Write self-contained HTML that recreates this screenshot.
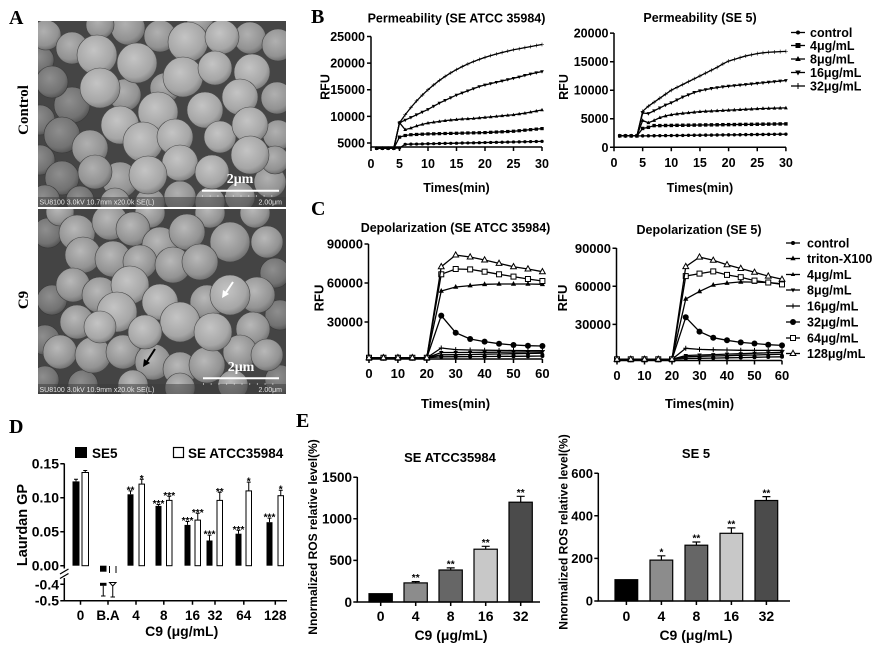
<!DOCTYPE html>
<html><head><meta charset="utf-8"><style>
html,body{margin:0;padding:0;background:#fff;}
svg{display:block;}
text{font-family:"Liberation Sans",Arial,sans-serif;font-weight:bold;fill:#000;}
.serif{font-family:"Liberation Serif","Times New Roman",serif;font-weight:bold;}
.ax{stroke:#000;stroke-width:1.5;fill:none;}
.ln{stroke:#000;stroke-width:1.3;fill:none;}
.bl{stroke:#000;stroke-width:1.3;fill:none;vector-effect:non-scaling-stroke;}
</style></head><body>
<svg width="881" height="654" viewBox="0 0 881 654" xmlns="http://www.w3.org/2000/svg">
<defs>
<radialGradient id="ga" cx="0.42" cy="0.38" r="0.68"><stop offset="0" stop-color="#c4c4c4"/><stop offset="0.7" stop-color="#a6a6a6"/><stop offset="1" stop-color="#747474"/></radialGradient>
<radialGradient id="gb" cx="0.42" cy="0.38" r="0.68"><stop offset="0" stop-color="#b0b0b0"/><stop offset="0.7" stop-color="#929292"/><stop offset="1" stop-color="#626262"/></radialGradient>
<radialGradient id="gc" cx="0.42" cy="0.38" r="0.68"><stop offset="0" stop-color="#8e8e8e"/><stop offset="0.7" stop-color="#727272"/><stop offset="1" stop-color="#4c4c4c"/></radialGradient>
<radialGradient id="gd" cx="0.42" cy="0.38" r="0.68"><stop offset="0" stop-color="#b8b8b8"/><stop offset="0.7" stop-color="#939393"/><stop offset="1" stop-color="#676767"/></radialGradient>
<clipPath id="clT"><rect x="38" y="21" width="248" height="186"/></clipPath>
<clipPath id="clB"><rect x="38" y="209" width="248" height="185"/></clipPath>
<marker id="bc" markerUnits="userSpaceOnUse" markerWidth="1" markerHeight="1" style="overflow:visible"><circle r="0.3" fill="#000"/></marker>
<marker id="bs" markerUnits="userSpaceOnUse" markerWidth="1" markerHeight="1" style="overflow:visible"><rect x="-0.3" y="-0.3" width="0.6" height="0.6" fill="#000"/></marker>
<marker id="bt" markerUnits="userSpaceOnUse" markerWidth="1" markerHeight="1" style="overflow:visible"><path d="M0,0.38 L0.33,-0.25 L-0.33,-0.25Z" fill="#000"/></marker>
<marker id="bv" markerUnits="userSpaceOnUse" markerWidth="1" markerHeight="1" style="overflow:visible"><path d="M0,-0.38 L0.33,0.25 L-0.33,0.25Z" fill="#000"/></marker>
<marker id="bp" markerUnits="userSpaceOnUse" markerWidth="1" markerHeight="1" style="overflow:visible"><path d="M-0.35,-0.05 H0.35 V0.05 H-0.35Z M-0.05,-0.35 H0.05 V0.35 H-0.05Z" fill="#000"/></marker>
<marker id="cc" markerUnits="userSpaceOnUse" markerWidth="1" markerHeight="1" style="overflow:visible"><circle r="2" fill="#000"/></marker>
<marker id="ct" markerUnits="userSpaceOnUse" markerWidth="1" markerHeight="1" style="overflow:visible"><path d="M0,-3 L2.6,1.8 L-2.6,1.8Z" fill="#000"/></marker>
<marker id="c4" markerUnits="userSpaceOnUse" markerWidth="1" markerHeight="1" style="overflow:visible"><path d="M0,-2.5 L2.2,1.5 L-2.2,1.5Z" fill="#000"/></marker>
<marker id="c8" markerUnits="userSpaceOnUse" markerWidth="1" markerHeight="1" style="overflow:visible"><path d="M0,2.5 L2.2,-1.5 L-2.2,-1.5Z" fill="#000"/></marker>
<marker id="c16" markerUnits="userSpaceOnUse" markerWidth="1" markerHeight="1" style="overflow:visible"><path d="M-2.5,-0.5 H2.5 V0.5 H-2.5Z M-0.5,-2.5 H0.5 V2.5 H-0.5Z" fill="#000"/></marker>
<marker id="c32" markerUnits="userSpaceOnUse" markerWidth="1" markerHeight="1" style="overflow:visible"><circle r="3" fill="#000"/></marker>
<marker id="c64" markerUnits="userSpaceOnUse" markerWidth="1" markerHeight="1" style="overflow:visible"><rect x="-2.5" y="-2.5" width="5" height="5" fill="#fff" stroke="#000" stroke-width="1"/></marker>
<marker id="c128" markerUnits="userSpaceOnUse" markerWidth="1" markerHeight="1" style="overflow:visible"><path d="M0,-3.2 L2.9,2 L-2.9,2Z" fill="#fff" stroke="#000" stroke-width="1"/></marker>
</defs>
<rect width="881" height="654" fill="#fff"/>

<!-- ================= PANEL A ================= -->
<text class="serif" x="9" y="24" font-size="20">A</text>
<g clip-path="url(#clT)">
<rect x="38" y="21" width="248" height="186" fill="#454545"/>
<g fill="url(#gc)" stroke="#3a3a3a" stroke-width="0.6">
<circle cx="40" cy="120" r="15"/><circle cx="40" cy="160" r="15"/><circle cx="40" cy="60" r="14"/>
<circle cx="72" cy="105" r="18"/><circle cx="52" cy="82" r="16"/><circle cx="62" cy="135" r="18"/><circle cx="62" cy="178" r="17"/><circle cx="45" cy="200" r="15"/><circle cx="80" cy="200" r="14"/>
</g>
<g fill="url(#gb)" stroke="#444" stroke-width="0.6">
<circle cx="46" cy="35" r="15"/><circle cx="72" cy="48" r="16"/><circle cx="128" cy="28" r="17"/><circle cx="160" cy="36" r="16"/><circle cx="250" cy="38" r="16"/><circle cx="278" cy="45" r="16"/><circle cx="277" cy="98" r="16"/><circle cx="90" cy="148" r="18"/><circle cx="278" cy="135" r="15"/><circle cx="120" cy="180" r="18"/><circle cx="95" cy="172" r="17"/><circle cx="270" cy="182" r="16"/><circle cx="180" cy="197" r="16"/><circle cx="240" cy="197" r="15"/><circle cx="115" cy="203" r="15"/><circle cx="125" cy="95" r="16"/><circle cx="165" cy="88" r="15"/><circle cx="150" cy="203" r="15"/><circle cx="210" cy="202" r="15"/><circle cx="100" cy="25" r="14"/><circle cx="200" cy="22" r="13"/><circle cx="275" cy="160" r="14"/>
</g>
<g fill="url(#ga)" stroke="#4a4a4a" stroke-width="0.6">
<circle cx="97" cy="55" r="20"/><circle cx="100" cy="88" r="20"/><circle cx="137" cy="63" r="20"/><circle cx="188" cy="42" r="20"/><circle cx="222" cy="37" r="17"/><circle cx="183" cy="77" r="20"/><circle cx="215" cy="68" r="17"/><circle cx="252" cy="72" r="18"/><circle cx="240" cy="97" r="18"/><circle cx="205" cy="110" r="18"/><circle cx="158" cy="112" r="20"/><circle cx="120" cy="125" r="19"/><circle cx="143" cy="142" r="20"/><circle cx="175" cy="137" r="18"/><circle cx="220" cy="137" r="16"/><circle cx="250" cy="125" r="18"/><circle cx="250" cy="155" r="19"/><circle cx="180" cy="163" r="18"/><circle cx="148" cy="175" r="19"/><circle cx="212" cy="172" r="17"/>
</g>
<rect x="38" y="197" width="248" height="10" fill="#3a3a3a" opacity="0.5"/>
<line x1="202" y1="190.7" x2="279" y2="190.7" stroke="#fff" stroke-width="2"/>
<line x1="202" y1="196" x2="279" y2="196" stroke="#ddd" stroke-width="1.2" stroke-dasharray="1 6.7"/>
<text class="serif" x="240" y="183" font-size="14" text-anchor="middle" style="fill:#fff">2μm</text>
<text x="39.5" y="204.5" font-size="7" style="fill:#e6e6e6;font-weight:normal">SU8100 3.0kV 10.7mm x20.0k SE(L)</text>
<text x="282" y="204.5" font-size="7" text-anchor="end" style="fill:#e6e6e6;font-weight:normal">2.00μm</text>
</g>
<g clip-path="url(#clB)">
<rect x="38" y="209" width="248" height="185" fill="#444"/>
<g fill="url(#gc)" stroke="#3a3a3a" stroke-width="0.6">
<circle cx="48" cy="233" r="15"/><circle cx="52" cy="300" r="15"/><circle cx="45" cy="340" r="15"/><circle cx="83" cy="385" r="15"/><circle cx="275" cy="273" r="15"/><circle cx="280" cy="380" r="15"/><circle cx="280" cy="315" r="15"/><circle cx="45" cy="380" r="14"/>
</g>
<g fill="url(#gd)" stroke="#444" stroke-width="0.6">
<circle cx="150" cy="213" r="15"/><circle cx="210" cy="213" r="15"/><circle cx="255" cy="213" r="15"/><circle cx="60" cy="212" r="14"/>
<circle cx="77" cy="233" r="18"/><circle cx="110" cy="222" r="18"/><circle cx="133" cy="229" r="17"/><circle cx="160" cy="245" r="18"/><circle cx="187" cy="232" r="18"/><circle cx="230" cy="242" r="20"/><circle cx="267" cy="242" r="16"/><circle cx="83" cy="255" r="18"/><circle cx="113" cy="259" r="18"/><circle cx="140" cy="262" r="17"/><circle cx="173" cy="265" r="18"/><circle cx="200" cy="262" r="18"/><circle cx="73" cy="285" r="17"/><circle cx="100" cy="295" r="18"/><circle cx="257" cy="295" r="18"/><circle cx="207" cy="302" r="17"/><circle cx="253" cy="329" r="17"/><circle cx="77" cy="322" r="17"/><circle cx="60" cy="352" r="17"/><circle cx="93" cy="355" r="18"/><circle cx="123" cy="352" r="17"/><circle cx="153" cy="362" r="18"/><circle cx="180" cy="369" r="17"/><circle cx="207" cy="365" r="18"/><circle cx="240" cy="352" r="17"/><circle cx="267" cy="355" r="16"/><circle cx="133" cy="385" r="15"/><circle cx="233" cy="385" r="15"/><circle cx="180" cy="388" r="15"/>
</g>
<g fill="url(#ga)" stroke="#4a4a4a" stroke-width="0.6">
<circle cx="230" cy="295" r="20"/><circle cx="130" cy="285" r="19"/><circle cx="117" cy="312" r="20"/><circle cx="160" cy="302" r="18"/><circle cx="180" cy="322" r="20"/><circle cx="213" cy="332" r="19"/><circle cx="145" cy="332" r="17"/><circle cx="100" cy="327" r="16"/>
</g>
<rect x="38" y="384" width="248" height="10" fill="#3a3a3a" opacity="0.5"/>
<line x1="203" y1="378.3" x2="279" y2="378.3" stroke="#fff" stroke-width="2"/>
<line x1="203" y1="384" x2="279" y2="384" stroke="#ddd" stroke-width="1.2" stroke-dasharray="1 6.7"/>
<text class="serif" x="241" y="371" font-size="14" text-anchor="middle" style="fill:#fff">2μm</text>
<text x="39.5" y="392" font-size="7" style="fill:#e6e6e6;font-weight:normal">SU8100 3.0kV 10.9mm x20.0k SE(L)</text>
<text x="282" y="392" font-size="7" text-anchor="end" style="fill:#e6e6e6;font-weight:normal">2.00μm</text>
<line x1="233" y1="282" x2="225" y2="294" stroke="#fff" stroke-width="2"/>
<path d="M222,298 L223,290 L229,294Z" fill="#fff"/>
<line x1="155" y1="349" x2="146" y2="363" stroke="#000" stroke-width="2"/>
<path d="M143,367 L144,359 L150,363Z" fill="#000"/>
</g>
<text class="serif" transform="translate(28,110) rotate(-90)" font-size="15" text-anchor="middle">Control</text>
<text class="serif" transform="translate(28,300) rotate(-90)" font-size="15" text-anchor="middle">C9</text>

<!-- ================= PANEL B ================= -->
<text class="serif" x="311" y="23" font-size="20">B</text>
<text x="456.5" y="22.5" font-size="12.5" text-anchor="middle">Permeability (SE ATCC 35984)</text>
<path class="ax" d="M371,36.5 V147 H542"/>
<path class="ax" d="M367,36.5 H371 M367,63.1 H371 M367,89.75 H371 M367,116.4 H371 M367,143 H371 M371,147 V151 M399.5,147 V151 M428,147 V151 M456.5,147 V151 M485,147 V151 M513.5,147 V151 M542,147 V151"/>
<g font-size="12.5" text-anchor="end">
<text x="365" y="41">25000</text><text x="365" y="67.6">20000</text><text x="365" y="94.2">15000</text><text x="365" y="120.9">10000</text><text x="365" y="147.5">5000</text>
</g>
<g font-size="12.5" text-anchor="middle">
<text x="371" y="168">0</text><text x="399.5" y="168">5</text><text x="428" y="168">10</text><text x="456.5" y="168">15</text><text x="485" y="168">20</text><text x="513.5" y="168">25</text><text x="542" y="168">30</text>
</g>
<text transform="translate(329.5,87) rotate(-90)" font-size="12.5" text-anchor="middle">RFU</text>
<text x="456.5" y="192" font-size="12.5" text-anchor="middle">Times(min)</text>
<g transform="translate(371,169.6) scale(5.7,-5.325)">
<polyline class="bl" marker-start="url(#bp)" marker-mid="url(#bp)" marker-end="url(#bp)" points="1,4 2,4 3,4 4,4 5,8.8 6,10.3 7,11.66 8,12.9 9,14 10,15 11,15.9 12,16.75 13,17.5 14,18.17 15,18.78 16,19.34 17,19.84 18,20.29 19,20.7 20,21.07 21,21.4 22,21.7 23,22 24,22.25 25,22.5 26,22.7 27,22.9 28,23.1 29,23.3 30,23.5"/>
<polyline class="bl" marker-start="url(#bv)" marker-mid="url(#bv)" marker-end="url(#bv)" points="1,4 2,4 3,4 4,4 5,8.8 6,9.3 7,9.8 8,10.3 9,10.8 10,11.3 11,11.9 12,12.5 13,13 14,13.5 15,14 16,14.4 17,14.8 18,15.2 19,15.6 20,15.9 21,16.15 22,16.4 23,16.65 24,16.9 25,17.15 26,17.4 27,17.7 28,17.95 29,18.2 30,18.4"/>
<polyline class="bl" marker-start="url(#bt)" marker-mid="url(#bt)" marker-end="url(#bt)" points="1,4 2,4 3,4 4,4 5,8.8 6,7.5 7,7.8 8,8.2 9,8.5 10,8.75 11,8.9 12,9.05 13,9.2 14,9.3 15,9.4 16,9.5 17,9.55 18,9.6 19,9.7 20,9.8 21,9.9 22,10 23,10.1 24,10.2 25,10.3 26,10.45 27,10.6 28,10.8 29,11 30,11.2"/>
<polyline class="bl" marker-start="url(#bs)" marker-mid="url(#bs)" marker-end="url(#bs)" points="1,4 2,4 3,4 4,4 5,6.1 6,6.4 7,6.55 8,6.6 9,6.65 10,6.7 11,6.72 12,6.75 13,6.78 14,6.8 15,6.82 16,6.85 17,6.88 18,6.9 19,6.92 20,6.95 21,7 22,7.05 23,7.1 24,7.15 25,7.2 26,7.3 27,7.4 28,7.5 29,7.6 30,7.7"/>
<polyline class="bl" marker-start="url(#bc)" marker-mid="url(#bc)" marker-end="url(#bc)" points="1,4 2,4 3,4 4,4 5,4.05 6,4.75 7,4.78 8,4.8 9,4.82 10,4.85 11,4.87 12,4.9 13,4.92 14,4.94 15,4.96 16,4.99 17,5.01 18,5.03 19,5.05 20,5.08 21,5.1 22,5.12 23,5.14 24,5.17 25,5.19 26,5.21 27,5.23 28,5.26 29,5.28 30,5.3"/>
</g>

<text x="700" y="22" font-size="12.5" text-anchor="middle">Permeability (SE 5)</text>
<path class="ax" d="M614,33 V147.3 H786"/>
<path class="ax" d="M610,33.1 H614 M610,61.7 H614 M610,90.2 H614 M610,118.75 H614 M610,147.3 H614 M614,147.3 V151.3 M642.65,147.3 V151.3 M671.3,147.3 V151.3 M699.95,147.3 V151.3 M728.6,147.3 V151.3 M757.25,147.3 V151.3 M785.9,147.3 V151.3"/>
<g font-size="12.5" text-anchor="end">
<text x="608.5" y="37.6">20000</text><text x="608.5" y="66.2">15000</text><text x="608.5" y="94.7">10000</text><text x="608.5" y="123.2">5000</text><text x="608.5" y="151.8">0</text>
</g>
<g font-size="12.5" text-anchor="middle">
<text x="614" y="167">0</text><text x="642.65" y="167">5</text><text x="671.3" y="167">10</text><text x="699.95" y="167">15</text><text x="728.6" y="167">20</text><text x="757.25" y="167">25</text><text x="785.9" y="167">30</text>
</g>
<text transform="translate(568,87) rotate(-90)" font-size="12.5" text-anchor="middle">RFU</text>
<text x="700" y="192" font-size="12.5" text-anchor="middle">Times(min)</text>
<g transform="translate(614,147.3) scale(5.73,-5.71)">
<polyline class="bl" marker-start="url(#bp)" marker-mid="url(#bp)" marker-end="url(#bp)" points="1,2 2,2 3,2 4,2 5,6.3 6,7.2 7,7.9 8,8.6 9,9.3 10,10 11,10.5 12,11 13,11.5 14,12 15,12.5 16,13 17,13.5 18,14 19,14.6 20,15.1 21,15.4 22,15.7 23,16 24,16.2 25,16.4 26,16.55 27,16.65 28,16.7 29,16.75 30,16.8"/>
<polyline class="bl" marker-start="url(#bv)" marker-mid="url(#bv)" marker-end="url(#bv)" points="1,2 2,2 3,2 4,2 5,6 6,5.9 7,6.4 8,6.9 9,7.4 10,7.8 11,8.3 12,8.8 13,9.2 14,9.6 15,9.9 16,10.1 17,10.3 18,10.45 19,10.6 20,10.7 21,10.8 22,10.9 23,11 24,11.1 25,11.2 26,11.3 27,11.4 28,11.5 29,11.6 30,11.7"/>
<polyline class="bl" marker-start="url(#bt)" marker-mid="url(#bt)" marker-end="url(#bt)" points="1,2 2,2 3,2 4,2 5,4.7 6,4.3 7,4.7 8,5.2 9,5.5 10,5.7 11,5.85 12,5.95 13,6.05 14,6.15 15,6.25 16,6.3 17,6.35 18,6.4 19,6.45 20,6.5 21,6.55 22,6.6 23,6.65 24,6.7 25,6.75 26,6.8 27,6.82 28,6.85 29,6.88 30,6.9"/>
<polyline class="bl" marker-start="url(#bs)" marker-mid="url(#bs)" marker-end="url(#bs)" points="1,2 2,2 3,2 4,2 5,3.3 6,3.5 7,3.8 8,3.8 9,3.82 10,3.83 11,3.85 12,3.86 13,3.87 14,3.89 15,3.9 16,3.92 17,3.93 18,3.94 19,3.96 20,3.97 21,3.98 22,4 23,4.01 24,4.02 25,4.04 26,4.05 27,4.06 28,4.08 29,4.09 30,4.1"/>
<polyline class="bl" marker-start="url(#bc)" marker-mid="url(#bc)" marker-end="url(#bc)" points="1,2 2,2 3,2 4,2 5,2 6,2.01 7,2.02 8,2.04 9,2.05 10,2.06 11,2.07 12,2.08 13,2.1 14,2.11 15,2.12 16,2.13 17,2.14 18,2.16 19,2.17 20,2.18 21,2.19 22,2.2 23,2.22 24,2.23 25,2.24 26,2.25 27,2.26 28,2.28 29,2.29 30,2.3"/>
</g>
<g class="ln">
<line x1="791" y1="32.5" x2="805" y2="32.5"/><line x1="791" y1="45.5" x2="805" y2="45.5"/><line x1="791" y1="59" x2="805" y2="59"/><line x1="791" y1="72.5" x2="805" y2="72.5"/><line x1="791" y1="86" x2="805" y2="86"/>
</g>
<circle cx="798" cy="32.5" r="2" fill="#000"/>
<rect x="795.5" y="43" width="5" height="5" fill="#000"/>
<path d="M798,56 L800.8,61 L795.2,61Z" fill="#000"/>
<path d="M798,75.5 L800.8,70.5 L795.2,70.5Z" fill="#000"/>
<path d="M795,85.5 H801 V86.5 H795Z M797.5,83 H798.5 V89 H797.5Z" fill="#000"/>
<g font-size="12.5">
<text x="810" y="37">control</text><text x="810" y="50">4μg/mL</text><text x="810" y="63.5">8μg/mL</text><text x="810" y="77">16μg/mL</text><text x="810" y="90.5">32μg/mL</text>
</g>

<!-- ================= PANEL C ================= -->
<text class="serif" x="311" y="215" font-size="20">C</text>
<text x="455.5" y="232" font-size="12.5" text-anchor="middle">Depolarization (SE ATCC 35984)</text>
<path class="ax" d="M368.5,244 V359 H542.5"/>
<path class="ax" d="M364.5,244 H368.5 M364.5,283 H368.5 M364.5,322 H368.5 M369,359 V363 M397.9,359 V363 M426.8,359 V363 M455.7,359 V363 M484.6,359 V363 M513.5,359 V363 M542.4,359 V363"/>
<g font-size="13" text-anchor="end">
<text x="363" y="248.7">90000</text><text x="363" y="287.7">60000</text><text x="363" y="326.7">30000</text>
</g>
<g font-size="13" text-anchor="middle">
<text x="369" y="378">0</text><text x="397.9" y="378">10</text><text x="426.8" y="378">20</text><text x="455.7" y="378">30</text><text x="484.6" y="378">40</text><text x="513.5" y="378">50</text><text x="542.4" y="378">60</text>
</g>
<text transform="translate(323.5,298) rotate(-90)" font-size="13" text-anchor="middle">RFU</text>
<text x="455.5" y="408" font-size="13" text-anchor="middle">Times(min)</text>
<g class="ln">
<polyline marker-start="url(#cc)" marker-mid="url(#cc)" marker-end="url(#cc)" points="369,357.75 383.45,357.75 397.9,357.75 412.35,357.75 426.8,357.75 441.25,356.8 455.7,356.7 470.15,356.6 484.6,356.5 499.05,356.4 513.5,356.3 527.95,356.2 542.4,356"/>
<polyline marker-start="url(#c4)" marker-mid="url(#c4)" marker-end="url(#c4)" points="369,357.75 383.45,357.75 397.9,357.75 412.35,357.75 426.8,357.75 441.25,354.8 455.7,354.7 470.15,354.5 484.6,354.2 499.05,354 513.5,353.7 527.95,353.5 542.4,353.2"/>
<polyline marker-start="url(#c8)" marker-mid="url(#c8)" marker-end="url(#c8)" points="369,357.75 383.45,357.75 397.9,357.75 412.35,357.75 426.8,357.75 441.25,352.5 455.7,352.5 470.15,352.4 484.6,352.3 499.05,352.2 513.5,352.1 527.95,352 542.4,351.9"/>
<polyline marker-start="url(#c16)" marker-mid="url(#c16)" marker-end="url(#c16)" points="369,357.75 383.45,357.75 397.9,357.75 412.35,357.75 426.8,357.75 441.25,348 455.7,349.6 470.15,350 484.6,350.2 499.05,350.4 513.5,350.5 527.95,350.6 542.4,350.6"/>
<polyline marker-start="url(#c32)" marker-mid="url(#c32)" marker-end="url(#c32)" points="369,357.75 383.45,357.75 397.9,357.75 412.35,357.75 426.8,357.75 441.25,315.6 455.7,332.7 470.15,339 484.6,341.6 499.05,343.7 513.5,345 527.95,345.7 542.4,346"/>
<polyline marker-start="url(#ct)" marker-mid="url(#ct)" marker-end="url(#ct)" points="369,357.75 383.45,357.75 397.9,357.75 412.35,357.75 426.8,357.75 441.25,291 455.7,287 470.15,285.6 484.6,284.3 499.05,284 513.5,284 527.95,284 542.4,284.3"/>
<polyline marker-start="url(#c64)" marker-mid="url(#c64)" marker-end="url(#c64)" points="369,357.75 383.45,357.75 397.9,357.75 412.35,357.75 426.8,357.75 441.25,274.3 455.7,269 470.15,269.4 484.6,271.7 499.05,274.3 513.5,276.6 527.95,279 542.4,281"/>
<polyline marker-start="url(#c128)" marker-mid="url(#c128)" marker-end="url(#c128)" points="369,357.75 383.45,357.75 397.9,357.75 412.35,357.75 426.8,357.75 441.25,266.75 455.7,255.05 470.15,257 484.6,260 499.05,263.4 513.5,266.75 527.95,269 542.4,271.7"/>
</g>

<text x="699" y="234" font-size="12.5" text-anchor="middle">Depolarization (SE 5)</text>
<path class="ax" d="M616.5,248 V360.5 H782"/>
<path class="ax" d="M612.5,248.2 H616.5 M612.5,286.3 H616.5 M612.5,324.4 H616.5 M617,360.5 V364.5 M644.5,360.5 V364.5 M672,360.5 V364.5 M699.5,360.5 V364.5 M727,360.5 V364.5 M754.5,360.5 V364.5 M782,360.5 V364.5"/>
<g font-size="13" text-anchor="end">
<text x="611" y="252.9">90000</text><text x="611" y="291">60000</text><text x="611" y="329.1">30000</text>
</g>
<g font-size="13" text-anchor="middle">
<text x="617" y="380">0</text><text x="644.5" y="380">10</text><text x="672" y="380">20</text><text x="699.5" y="380">30</text><text x="727" y="380">40</text><text x="754.5" y="380">50</text><text x="782" y="380">60</text>
</g>
<text transform="translate(567,298) rotate(-90)" font-size="13" text-anchor="middle">RFU</text>
<text x="699.5" y="408" font-size="13" text-anchor="middle">Times(min)</text>
<g class="ln">
<polyline marker-start="url(#cc)" marker-mid="url(#cc)" marker-end="url(#cc)" points="617,359.3 630.75,359.3 644.5,359.3 658.25,359.3 672,359.3 685.75,358.5 699.5,358.3 713.25,358.1 727,357.8 740.75,357.6 754.5,357.3 768.25,357 782,356.8"/>
<polyline marker-start="url(#c4)" marker-mid="url(#c4)" marker-end="url(#c4)" points="617,359.3 630.75,359.3 644.5,359.3 658.25,359.3 672,359.3 685.75,356.8 699.5,356.4 713.25,356 727,355.7 740.75,355.3 754.5,355 768.25,354.6 782,354.2"/>
<polyline marker-start="url(#c8)" marker-mid="url(#c8)" marker-end="url(#c8)" points="617,359.3 630.75,359.3 644.5,359.3 658.25,359.3 672,359.3 685.75,355.5 699.5,355 713.25,354.6 727,354.1 740.75,353.7 754.5,353.2 768.25,352.8 782,352.3"/>
<polyline marker-start="url(#c16)" marker-mid="url(#c16)" marker-end="url(#c16)" points="617,359.3 630.75,359.3 644.5,359.3 658.25,359.3 672,359.3 685.75,348.3 699.5,349.4 713.25,349.8 727,350 740.75,350.3 754.5,350.4 768.25,350.4 782,350.4"/>
<polyline marker-start="url(#c32)" marker-mid="url(#c32)" marker-end="url(#c32)" points="617,359.3 630.75,359.3 644.5,359.3 658.25,359.3 672,359.3 685.75,317.3 699.5,331.6 713.25,337.7 727,340.3 740.75,342.4 754.5,343.5 768.25,344.7 782,345.4"/>
<polyline marker-start="url(#ct)" marker-mid="url(#ct)" marker-end="url(#ct)" points="617,359.3 630.75,359.3 644.5,359.3 658.25,359.3 672,359.3 685.75,299 699.5,291.4 713.25,285 727,283.1 740.75,281.9 754.5,282.1 768.25,282.5 782,283.8"/>
<polyline marker-start="url(#c64)" marker-mid="url(#c64)" marker-end="url(#c64)" points="617,359.3 630.75,359.3 644.5,359.3 658.25,359.3 672,359.3 685.75,276.1 699.5,273.6 713.25,271.4 727,274.9 740.75,277.2 754.5,280.6 768.25,282.5 782,284.4"/>
<polyline marker-start="url(#c128)" marker-mid="url(#c128)" marker-end="url(#c128)" points="617,359.3 630.75,359.3 644.5,359.3 658.25,359.3 672,359.3 685.75,266.6 699.5,257.1 713.25,260.3 727,264.7 740.75,268.5 754.5,272.3 768.25,276.1 782,279.3"/>
</g>
<g class="ln">
<line x1="786" y1="243" x2="800" y2="243"/><line x1="786" y1="258.5" x2="800" y2="258.5"/><line x1="786" y1="274.5" x2="800" y2="274.5"/><line x1="786" y1="290" x2="800" y2="290"/><line x1="786" y1="306" x2="800" y2="306"/><line x1="786" y1="322" x2="800" y2="322"/><line x1="786" y1="338" x2="800" y2="338"/><line x1="786" y1="353.5" x2="800" y2="353.5"/>
</g>
<circle cx="793" cy="243" r="2" fill="#000"/>
<path d="M793,255.5 L795.6,260.3 L790.4,260.3Z" fill="#000"/>
<path d="M793,272 L795.2,276 L790.8,276Z" fill="#000"/>
<path d="M793,292.5 L795.2,288.5 L790.8,288.5Z" fill="#000"/>
<path d="M790.5,305.5 H795.5 V306.5 H790.5Z M792.5,303.5 H793.5 V308.5 H792.5Z" fill="#000"/>
<circle cx="793" cy="322" r="3" fill="#000"/>
<rect x="790.5" y="335.5" width="5" height="5" fill="#fff" stroke="#000" stroke-width="1"/>
<path d="M793,350.3 L795.9,355.5 L790.1,355.5Z" fill="#fff" stroke="#000" stroke-width="1"/>
<g font-size="12.5">
<text x="807" y="247.5">control</text><text x="807" y="263">triton-X100</text><text x="807" y="279">4μg/mL</text><text x="807" y="294.5">8μg/mL</text><text x="807" y="310.5">16μg/mL</text><text x="807" y="326.5">32μg/mL</text><text x="807" y="342.5">64μg/mL</text><text x="807" y="358">128μg/mL</text>
</g>

<!-- ================= PANEL D ================= -->
<text class="serif" x="9" y="433" font-size="20">D</text>
<rect x="75" y="447" width="12" height="11" fill="#000"/>
<text x="92" y="458" font-size="13.5">SE5</text>
<rect x="173.5" y="447.5" width="10" height="10" fill="#fff" stroke="#000" stroke-width="1.2"/>
<text x="188" y="458" font-size="13.5">SE ATCC35984</text>
<path class="ax" d="M64.3,463.5 V568.5 M64.3,578 V600.7 H287"/>
<path d="M60,574 L68.5,569 M60,578.5 L68.5,573.5" stroke="#000" stroke-width="1.3" fill="none"/>
<path class="ax" d="M60.3,463.7 H64.3 M60.3,497.7 H64.3 M60.3,531.7 H64.3 M60.3,565.7 H64.3 M60.3,584.3 H64.3 M60.3,600.7 H64.3 M80.5,600.7 V604.7 M108,600.7 V604.7 M136,600.7 V604.7 M163.8,600.7 V604.7 M192.5,600.7 V604.7 M215,600.7 V604.7 M243.8,600.7 V604.7 M275.3,600.7 V604.7"/>
<g font-size="14" text-anchor="end">
<text x="59" y="468.7">0.15</text><text x="59" y="502.7">0.10</text><text x="59" y="536.7">0.05</text><text x="59" y="570.7">0.00</text><text x="59" y="589.3">-0.4</text><text x="59" y="605.7">-0.5</text>
</g>
<g font-size="13.5" text-anchor="middle">
<text x="80.5" y="620">0</text><text x="108" y="620">B.A</text><text x="136" y="620">4</text><text x="163.8" y="620">8</text><text x="192.5" y="620">16</text><text x="215" y="620">32</text><text x="243.8" y="620">64</text><text x="275.3" y="620">128</text>
</g>
<text transform="translate(27,525) rotate(-90)" font-size="14.5" text-anchor="middle">Laurdan GP</text>
<text x="181.7" y="636" font-size="14" text-anchor="middle">C9 (μg/mL)</text>
<g fill="#000">
<rect x="72.5" y="481.4" width="7" height="84.3"/>
<rect x="100" y="565.7" width="6.5" height="6"/>
<rect x="127.5" y="494.3" width="6" height="71.4"/>
<rect x="155.5" y="505.9" width="6" height="59.8"/>
<rect x="184.5" y="524.9" width="6" height="40.8"/>
<rect x="206.5" y="540.5" width="6" height="25.2"/>
<rect x="235.5" y="533.7" width="6" height="32"/>
<rect x="266.5" y="522.2" width="6" height="43.5"/>
<rect x="100" y="582.8" width="6.5" height="3"/>
</g>
<g fill="#fff" stroke="#000" stroke-width="1">
<rect x="82" y="472.5" width="6.5" height="93.2"/>
<rect x="139" y="484.1" width="5.5" height="81.6"/>
<rect x="166.5" y="500.4" width="5.5" height="65.3"/>
<rect x="195" y="520.1" width="5.5" height="45.6"/>
<rect x="217" y="500.4" width="5.5" height="65.3"/>
<rect x="246" y="490.9" width="5.5" height="74.8"/>
<rect x="278" y="495.7" width="5.5" height="70"/>
</g>
<path d="M76,481.4 V479.3 M74,479.3 H78 M85.25,472.5 V470.5 M83.25,470.5 H87.25 M130.5,494.3 V490.9 M128.5,490.9 H132.5 M141.75,484.1 V479.3 M139.75,479.3 H143.75 M158.5,505.9 V504.5 M156.5,504.5 H160.5 M169.25,500.4 V496.3 M167.25,496.3 H171.25 M187.5,524.9 V521.5 M185.5,521.5 H189.5 M197.75,520.1 V513.3 M195.75,513.3 H199.75 M209.5,540.5 V535.1 M207.5,535.1 H211.5 M219.75,500.4 V492.3 M217.75,492.3 H221.75 M238.5,533.7 V530.3 M236.5,530.3 H240.5 M248.75,490.9 V482.1 M246.75,482.1 H250.75 M269.5,522.2 V518.1 M267.5,518.1 H271.5 M280.75,495.7 V490.2 M278.75,490.2 H282.75" stroke="#000" stroke-width="1" fill="none"/>
<path d="M109.5,566 V573 M116,566 V573 M103.25,585.8 V596 M101,596 H105.5 M109.5,582.5 H116 L112.75,586 Z M112.75,586 V597 M110.5,597 H115" stroke="#000" stroke-width="1" fill="none"/>
<g font-size="10" text-anchor="middle">
<text x="130.5" y="493.4">**</text><text x="141.75" y="481.8">*</text>
<text x="158.5" y="507">***</text><text x="169.25" y="498.8">***</text>
<text x="187.5" y="524">***</text><text x="197.75" y="515.8">***</text>
<text x="209.5" y="537.6">***</text><text x="219.75" y="494.8">**</text>
<text x="238.5" y="532.8">***</text><text x="248.75" y="484.6">*</text>
<text x="269.5" y="520.6">***</text><text x="280.75" y="492.7">*</text>
</g>

<!-- ================= PANEL E ================= -->
<text class="serif" x="296" y="427" font-size="20">E</text>
<text x="450" y="462" font-size="13" text-anchor="middle">SE ATCC35984</text>
<g stroke="#000" stroke-width="1.2">
<rect x="369" y="593.7" width="23.3" height="8.3" fill="#000"/>
<rect x="404" y="582.9" width="23.3" height="19.1" fill="#8c8c8c"/>
<rect x="439" y="570" width="23.3" height="32" fill="#666"/>
<rect x="474" y="549.2" width="23.3" height="52.8" fill="#c8c8c8"/>
<rect x="509" y="502.2" width="23.3" height="99.8" fill="#4b4b4b"/>
</g>
<path d="M415.7,582.9 V581.6 M411.7,581.6 H419.7 M450.7,570 V567.9 M446.7,567.9 H454.7 M485.7,549.2 V546.3 M481.7,546.3 H489.7 M520.7,502.2 V496.3 M516.7,496.3 H524.7" stroke="#000" stroke-width="1.2" fill="none"/>
<path class="ax" d="M357.3,477 V602 H540"/>
<path class="ax" d="M353.3,477.2 H357.3 M353.3,518.8 H357.3 M353.3,560.4 H357.3 M353.3,602 H357.3 M380.7,602 V606 M415.7,602 V606 M450.7,602 V606 M485.7,602 V606 M520.7,602 V606"/>
<g font-size="13.5" text-anchor="end">
<text x="352" y="482">1500</text><text x="352" y="523.6">1000</text><text x="352" y="565.2">500</text><text x="352" y="606.8">0</text>
</g>
<g font-size="14" text-anchor="middle">
<text x="380.7" y="621">0</text><text x="415.7" y="621">4</text><text x="450.7" y="621">8</text><text x="485.7" y="621">16</text><text x="520.7" y="621">32</text>
</g>
<g font-size="10" text-anchor="middle">
<text x="415.7" y="581">**</text><text x="450.7" y="567.5">**</text><text x="485.7" y="546">**</text><text x="520.7" y="496">**</text>
</g>
<text x="451" y="640" font-size="14" text-anchor="middle">C9 (μg/mL)</text>
<text transform="translate(316.8,537) rotate(-90)" font-size="12" text-anchor="middle">Nnormalized ROS relative level(%)</text>

<text x="696" y="458" font-size="13" text-anchor="middle">SE 5</text>
<g stroke="#000" stroke-width="1.2">
<rect x="615" y="579.7" width="22.7" height="21.3" fill="#000"/>
<rect x="650" y="560.1" width="22.7" height="40.9" fill="#8c8c8c"/>
<rect x="685" y="545.2" width="22.7" height="55.8" fill="#666"/>
<rect x="720" y="533.3" width="22.7" height="67.7" fill="#c8c8c8"/>
<rect x="755" y="500.5" width="22.7" height="100.5" fill="#4b4b4b"/>
</g>
<path d="M661.4,560.1 V555.8 M657.4,555.8 H665.4 M696.4,545.2 V542 M692.4,542 H700.4 M731.4,533.3 V527.9 M727.4,527.9 H735.4 M766.4,500.5 V496.6 M762.4,496.6 H770.4" stroke="#000" stroke-width="1.2" fill="none"/>
<path class="ax" d="M598.3,473 V601 H790"/>
<path class="ax" d="M594.3,473.2 H598.3 M594.3,515.8 H598.3 M594.3,558.4 H598.3 M594.3,601 H598.3 M626.4,601 V605 M661.4,601 V605 M696.4,601 V605 M731.4,601 V605 M766.4,601 V605"/>
<g font-size="13" text-anchor="end">
<text x="593" y="477.8">600</text><text x="593" y="520.4">400</text><text x="593" y="563">200</text><text x="593" y="605.6">0</text>
</g>
<g font-size="14" text-anchor="middle">
<text x="626.4" y="621">0</text><text x="661.4" y="621">4</text><text x="696.4" y="621">8</text><text x="731.4" y="621">16</text><text x="766.4" y="621">32</text>
</g>
<g font-size="10" text-anchor="middle">
<text x="661.4" y="555.5">*</text><text x="696.4" y="541.7">**</text><text x="731.4" y="527.6">**</text><text x="766.4" y="496.3">**</text>
</g>
<text x="696" y="640" font-size="14" text-anchor="middle">C9 (μg/mL)</text>
<text transform="translate(567.5,532) rotate(-90)" font-size="12" text-anchor="middle">Nnormalized ROS relative level(%)</text>
</svg>
</body></html>
